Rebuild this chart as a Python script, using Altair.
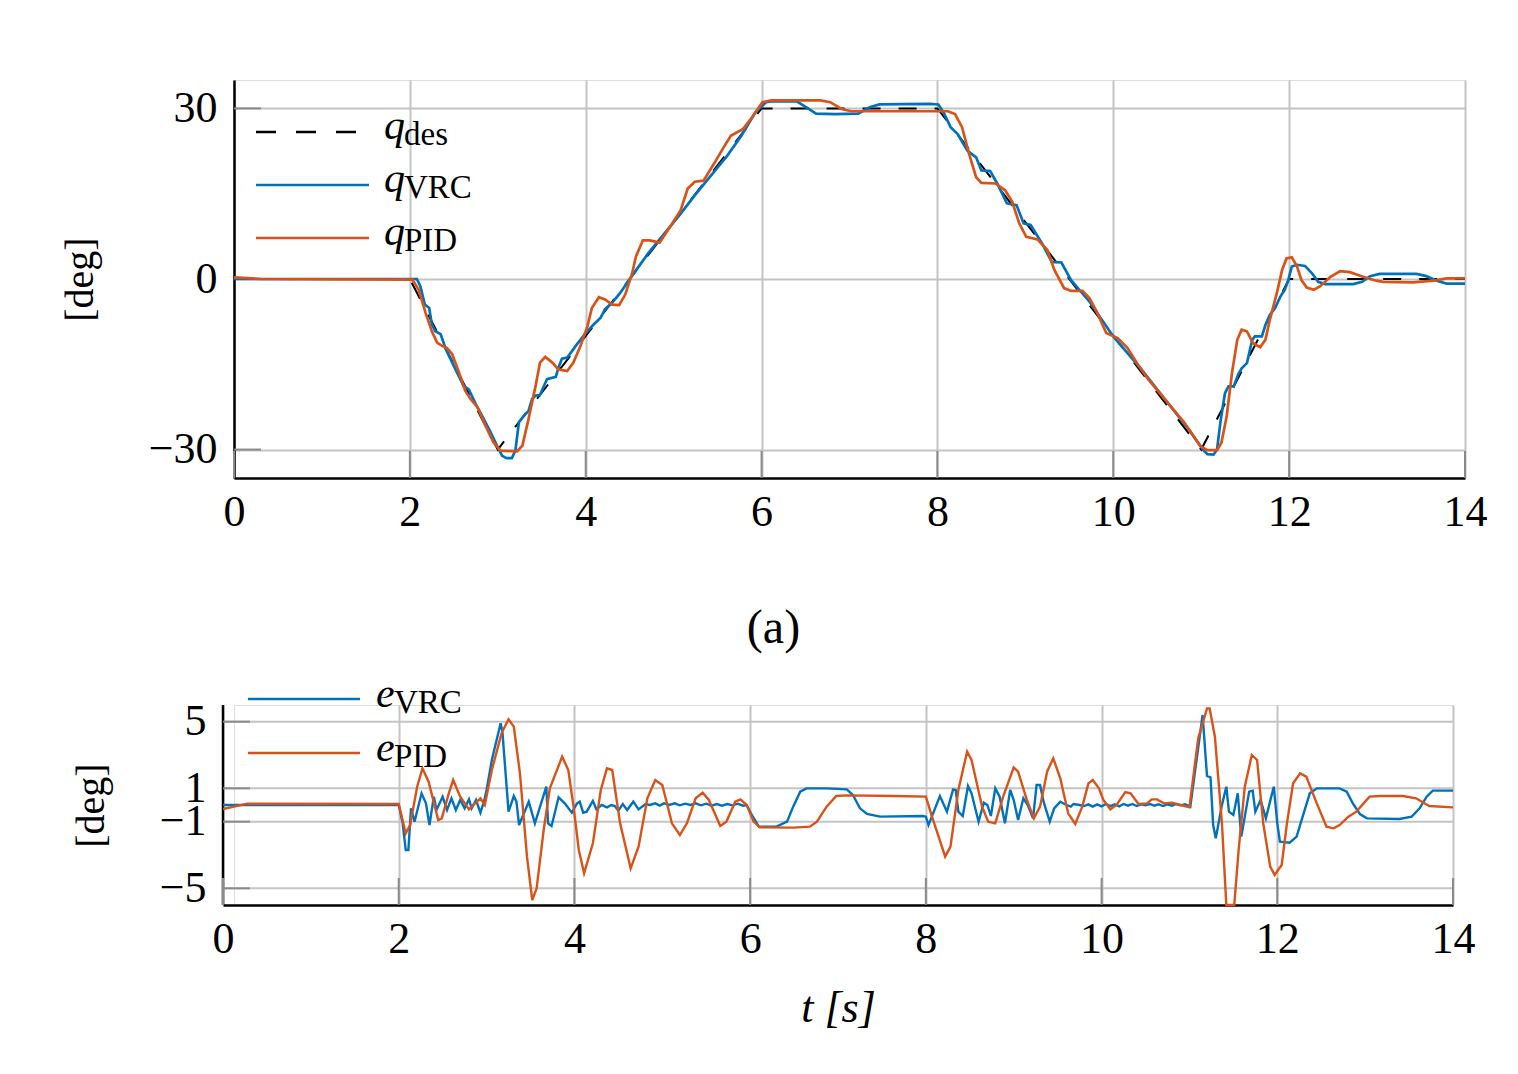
import altair as alt
import pandas as pd

# ---------------- data ----------------
x_ticks = [0, 2, 4, 6, 8, 10, 12, 14]
y_ticks_top = [-30, 0, 30]
y_ticks_bot = [-5, -1, 1, 5]

q_des = [(0, 0), (2, 0), (3, -30), (6, 30), (8, 30), (11, -30), (12, 0), (14, 0)]

q_vrc = [(0, 0), (2.08, 0), (2.12, -1.3), (2.17, -4.5), (2.22, -5.1), (2.25, -8.0), (2.29, -9.2),
         (2.35, -9.7), (2.41, -12.4), (2.5, -15.3), (2.61, -18.8), (2.67, -19.4), (2.75, -22.0),
         (2.84, -24.6), (2.92, -27.0), (2.99, -29.3), (3.05, -31.1), (3.10, -31.5), (3.16, -31.5),
         (3.20, -30.2), (3.24, -25.2), (3.30, -24.0), (3.35, -23.2), (3.39, -21.1), (3.43, -20.5),
         (3.48, -20.4), (3.56, -17.6), (3.66, -17.2), (3.69, -15.6), (3.73, -14.0), (3.79, -13.8),
         (3.90, -11.5), (4.0, -9.5), (4.09, -8.0), (4.17, -6.8), (4.22, -5.3), (4.3, -4.2),
         (4.39, -2.5), (4.51, 0.2), (4.71, 4.5), (4.88, 7.7), (5.08, 11.5), (5.24, 14.7),
         (5.44, 18.5), (5.61, 21.7), (5.77, 25.2), (5.93, 29.3), (6.05, 31.1), (6.11, 31.25),
         (6.40, 31.25), (6.51, 30.2), (6.62, 29.1), (6.83, 29.0), (7.10, 29.1), (7.23, 30.2),
         (7.34, 30.7), (7.91, 30.8), (8.01, 30.7), (8.07, 29.3), (8.15, 26.7), (8.23, 25.5),
         (8.34, 22.6), (8.44, 21.4), (8.50, 19.1), (8.60, 19.0), (8.68, 16.8), (8.79, 13.3),
         (8.90, 13.0), (8.98, 9.8), (9.06, 9.5), (9.19, 6.25), (9.30, 3.0), (9.41, 2.9),
         (9.52, -0.2), (9.73, -4.0), (10.0, -10.1), (10.32, -15.9), (10.59, -21.2), (10.86, -26.5),
         (11.02, -30.0), (11.07, -30.8), (11.14, -30.9), (11.18, -30.0), (11.22, -25.0),
         (11.27, -20.1), (11.31, -18.9), (11.37, -18.9), (11.42, -16.8), (11.46, -15.7),
         (11.52, -14.8), (11.58, -10.7), (11.61, -10.1), (11.69, -10.1), (11.73, -8.1),
         (11.78, -6.3), (11.84, -5.1), (11.90, -3.1), (11.95, -1.9), (11.99, -0.2), (12.03, 2.2),
         (12.09, 2.5), (12.18, 2.3), (12.26, 1.0), (12.33, -0.5), (12.41, -0.9), (12.73, -0.9),
         (12.83, -0.5), (12.92, 0.5), (13.03, 0.9), (13.45, 0.9), (13.56, 0.5), (13.68, -0.3),
         (13.79, -0.8), (14.0, -0.8)]

q_pid = [(0, 0.3), (0.3, 0), (2.03, -0.1), (2.10, -1.9), (2.18, -6.0), (2.25, -9.2), (2.31, -11.2),
         (2.37, -11.8), (2.42, -12.1), (2.48, -13.2), (2.56, -16.5), (2.63, -19.7), (2.69, -21.1),
         (2.77, -22.6), (2.86, -25.8), (2.95, -28.7), (3.03, -30.2), (3.22, -30.3), (3.28, -29.3),
         (3.35, -24.6), (3.43, -18.8), (3.48, -14.7), (3.54, -13.7), (3.62, -14.7), (3.69, -15.9),
         (3.79, -16.2), (3.86, -14.7), (3.94, -11.8), (4.02, -8.3), (4.07, -5.1), (4.15, -3.2),
         (4.22, -3.6), (4.30, -4.5), (4.38, -4.6), (4.45, -2.7), (4.53, 1.1), (4.57, 3.9),
         (4.65, 6.8), (4.73, 6.8), (4.84, 6.4), (4.96, 9.2), (5.08, 12.1), (5.16, 15.9),
         (5.24, 17.1), (5.34, 17.3), (5.46, 20.3), (5.57, 23.2), (5.65, 25.2), (5.79, 26.4),
         (5.89, 28.4), (6.01, 31.1), (6.11, 31.4), (6.67, 31.4), (6.78, 31.1), (6.91, 29.9),
         (7.02, 29.5), (8.12, 29.5), (8.20, 29.0), (8.28, 26.7), (8.36, 22.0), (8.44, 17.9),
         (8.50, 16.9), (8.66, 16.8), (8.77, 15.6), (8.85, 13.6), (8.93, 9.8), (9.01, 7.4),
         (9.14, 6.95), (9.25, 5.1), (9.33, 1.6), (9.44, -1.6), (9.52, -2.1), (9.65, -2.1),
         (9.73, -3.4), (9.81, -5.7), (9.92, -9.5), (10.05, -10.4), (10.16, -12.1), (10.27, -14.8),
         (10.40, -17.7), (10.59, -21.2), (10.81, -25.3), (10.99, -29.4), (11.07, -30.1),
         (11.18, -30.1), (11.23, -28.8), (11.29, -24.1), (11.35, -16.5), (11.41, -10.7),
         (11.46, -8.9), (11.52, -9.2), (11.59, -11.3), (11.67, -12.0), (11.73, -10.7),
         (11.78, -7.2), (11.86, -2.5), (11.92, 1.6), (11.97, 3.6), (12.03, 3.8), (12.09, 2.2),
         (12.14, -0.2), (12.2, -1.5), (12.28, -1.9), (12.35, -1.3), (12.47, 0.4), (12.58, 1.4),
         (12.69, 1.2), (12.84, 0.4), (12.99, -0.3), (13.07, -0.5), (13.41, -0.6), (13.64, -0.3),
         (13.79, 0.1), (14.0, 0.1)]

e_vrc = [(0, 0), (2.0, 0), (2.045, -1.1), (2.08, -2.7), (2.11, -2.7), (2.14, -0.2), (2.18, -1.0),
         (2.26, 0.7), (2.31, 0.1), (2.35, -1.2), (2.40, 0.5), (2.43, -0.3), (2.50, 0.5),
         (2.55, -0.3), (2.60, 0.4), (2.65, -0.3), (2.70, 0.3), (2.75, -0.2), (2.80, 0.34),
         (2.83, -0.2), (2.88, 0.3), (2.93, -0.46), (2.97, 0.2), (3.0, 0.9), (3.06, 2.7),
         (3.16, 4.9), (3.18, 4.4), (3.25, -0.4), (3.31, 0.54), (3.34, 0.2), (3.37, -1.2),
         (3.48, 0.2), (3.55, -1.1), (3.68, 1.1), (3.70, -1.1), (3.74, -1.26), (3.82, 0.46),
         (3.89, 0.1), (3.97, -0.46), (4.03, 0.1), (4.06, 0.2), (4.1, -0.46), (4.14, -0.4),
         (4.21, 0.24), (4.25, -0.26), (4.31, 0), (4.37, -0.14), (4.42, 0), (4.46, -0.06),
         (4.5, -0.34), (4.55, 0.06), (4.6, -0.3), (4.67, 0.2), (4.73, -0.26), (4.81, 0.06),
         (4.86, 0.0), (4.92, 0.1), (4.97, -0.04), (5.02, 0.1), (5.08, 0.0), (5.14, 0.1),
         (5.2, -0.02), (5.26, 0.08), (5.32, 0.0), (5.38, 0.1), (5.44, -0.02), (5.5, 0.08),
         (5.56, -0.04), (5.62, 0.06), (5.68, -0.04), (5.74, 0.06), (5.8, -0.02), (5.86, 0.08),
         (5.92, -0.04), (5.96, 0), (6.02, -0.6), (6.1, -1.3), (6.30, -1.3), (6.42, -1.0),
         (6.49, -0.1), (6.57, 0.8), (6.64, 1.0), (6.87, 1.0), (7.1, 0.94), (7.17, 0.6),
         (7.25, -0.2), (7.33, -0.54), (7.48, -0.7), (7.97, -0.66), (8.0, -0.7), (8.03, -1.2),
         (8.06, -0.8), (8.16, 0.54), (8.24, -0.4), (8.31, 0.94), (8.34, 0.9), (8.37, -0.4),
         (8.42, -0.66), (8.48, 1.14), (8.52, 0.7), (8.6, -1.0), (8.66, 0.14), (8.70, 0.0),
         (8.74, -0.66), (8.79, 1.0), (8.84, 0.5), (8.9, -1.1), (8.96, 0.9), (9.0, 0.3),
         (9.05, -0.9), (9.11, 0.4), (9.16, 0), (9.22, -0.8), (9.26, 1.2), (9.3, 1.2), (9.34, 0.2),
         (9.41, -1.0), (9.46, -0.2), (9.53, 0.2), (9.6, 0.0), (9.65, -0.1), (9.68, 0.06),
         (9.75, 0.0), (9.8, -0.06), (9.85, 0.04), (9.9, -0.1), (9.95, 0.04), (10.0, -0.08),
         (10.05, 0.06), (10.1, -0.06), (10.15, 0.04), (10.2, -0.08), (10.25, 0.06), (10.3, -0.04),
         (10.35, 0.06), (10.4, -0.06), (10.45, 0.04), (10.5, -0.02), (10.55, 0.06), (10.6, -0.04),
         (10.65, 0.04), (10.7, -0.06), (10.75, 0.04), (10.8, -0.04), (10.85, 0.06), (10.9, -0.02),
         (10.95, 0.04), (11.01, -0.1), (11.15, 5.4), (11.2, 1.74), (11.24, 1.66), (11.27, -1.2),
         (11.30, -2.0), (11.37, 0), (11.42, 1.1), (11.45, -0.4), (11.5, -0.6), (11.55, 0.7),
         (11.59, -1.9), (11.68, 0.8), (11.72, 0.86), (11.75, -0.4), (11.81, 0.3), (11.87, -0.8),
         (11.96, 1.1), (12.0, -1.1), (12.03, -2.2), (12.14, -2.26), (12.22, -1.9), (12.3, -0.5),
         (12.37, 0.7), (12.45, 1.0), (12.71, 1.0), (12.79, 0.8), (12.86, 0.1), (12.94, -0.54),
         (13.02, -0.8), (13.39, -0.84), (13.53, -0.7), (13.62, -0.2), (13.7, 0.5), (13.77, 0.86),
         (14.0, 0.86)]

# the PID error leaves the plotted range near t = 11.45 s; it is shown down to the axis (-6)
e_pid = [(0, -0.24), (0.28, 0.08), (2.0, 0.06), (2.08, -1.7), (2.13, -1.2), (2.21, 1.1), (2.27, 2.2),
         (2.34, 1.4), (2.45, -0.9), (2.49, -0.8), (2.57, 0.7), (2.62, 1.5), (2.70, 0.5),
         (2.80, -0.26), (2.85, 0), (2.93, 0.4), (2.98, 0), (3.06, 2.1), (3.17, 4.3), (3.25, 5.14),
         (3.31, 4.7), (3.38, 1.9), (3.46, -3.1), (3.52, -5.7), (3.57, -5.0), (3.65, -1.5),
         (3.72, 1.0), (3.86, 2.9), (3.93, 2.1), (3.99, -0.1), (4.05, -2.7), (4.11, -4.1),
         (4.21, -2.3), (4.30, 0.9), (4.37, 2.2), (4.43, 2.1), (4.52, -1.1), (4.64, -3.8),
         (4.73, -2.5), (4.83, 0.4), (4.92, 1.5), (5.0, 1.2), (5.11, -1.1), (5.2, -1.8),
         (5.28, -1.1), (5.38, 0.4), (5.46, 0.74), (5.53, 0.3), (5.66, -1.26), (5.73, -1.0),
         (5.83, 0.2), (5.89, 0.34), (5.96, 0), (6.04, -1.0), (6.11, -1.34), (6.49, -1.36),
         (6.68, -1.3), (6.76, -1.0), (6.87, -0.1), (6.98, 0.54), (7.1, 0.58), (7.63, 0.54),
         (8.0, 0.5), (8.07, -0.7), (8.22, -3.1), (8.28, -2.5), (8.37, 0.9), (8.47, 3.2),
         (8.52, 2.7), (8.64, -0.1), (8.71, -1.0), (8.79, -1.1), (8.88, 0.5), (9.0, 2.26),
         (9.05, 2.0), (9.15, 0.3), (9.23, -0.8), (9.30, -0.1), (9.38, 2.0), (9.45, 2.8),
         (9.53, 1.6), (9.62, -0.5), (9.70, -1.14), (9.78, -0.1), (9.85, 1.3), (9.9, 1.5),
         (9.97, 1.0), (10.02, 0.3), (10.1, -0.26), (10.17, 0), (10.27, 0.78), (10.33, 0.7),
         (10.42, 0.06), (10.52, 0.1), (10.57, 0.34), (10.63, 0.34), (10.71, 0.1), (10.8, 0.14),
         (10.9, 0), (11.0, -0.14), (11.1, 4.0), (11.2, 5.8), (11.23, 5.8), (11.29, 4.1),
         (11.37, -1.1), (11.42, -6.0), (11.51, -6.0), (11.56, -2.7), (11.63, 1.1),
         (11.71, 3.0), (11.77, 2.7), (11.84, -1.1), (11.92, -3.7), (11.97, -4.2), (12.05, -3.6),
         (12.11, -1.1), (12.18, 1.3), (12.26, 1.9), (12.33, 1.7), (12.45, 0.1), (12.56, -1.3),
         (12.64, -1.4), (12.71, -1.2), (12.81, -0.7), (12.9, -0.4), (13.05, 0.5), (13.17, 0.54),
         (13.43, 0.54), (13.58, 0.4), (13.73, -0.06), (14.0, -0.14)]

legend_top = ["des", "VRC", "PID"]
legend_bot = ["VRC", "PID"]

# ---------------- styling ----------------
BLUE = "#0072BD"
ORANGE = "#D95319"
GRID = "#c4c4c4"
TICK = "#8a8a8a"
FONT = "Liberation Serif"
FS = 44
TFS = 40

W1, H1 = 1231, 398
# lower panel: same group origin as the upper one, but its x range starts 11 px further left
SHIFT = 11
W2, H2 = 1230 - SHIFT, 200


def frame(pairs):
    return pd.DataFrame(pairs, columns=["t", "v"])


def axis_x(title, tx, ty, tsize, tstyle):
    return alt.Axis(values=x_ticks, format="d", grid=True, gridColor=GRID, gridWidth=2,
                    domainColor="black", domainWidth=2.5, ticks=False, labelFlush=False,
                    labelOverlap=False, labelFont=FONT, labelFontSize=FS, labelColor="black",
                    labelPadding=12, title=title, titleX=tx, titleY=ty, titleBaseline="middle",
                    titleAlign="center", titleFont=FONT, titleFontSize=tsize,
                    titleFontWeight="normal", titleFontStyle=tstyle, titleColor="black")


def axis_y(vals, tx, ty, grid, domain, pad):
    return alt.Axis(values=vals, format="d", grid=grid, gridColor=GRID, gridWidth=2,
                    domain=domain, domainColor="black", domainWidth=2.5, ticks=False,
                    labelOverlap=False, labelFont=FONT, labelFontSize=FS, labelColor="black",
                    labelPadding=pad, labelBaseline="middle", title="[deg]", titleX=tx, titleY=ty,
                    titleBaseline="middle", titleAlign="center", titleAngle=270,
                    titleFont=FONT, titleFontSize=TFS, titleFontWeight="normal", titleColor="black")


# ---------------- top panel ----------------
xs1 = alt.Scale(domain=[0, 14], nice=False, zero=False)
ys1 = alt.Scale(domain=[-35, 35], nice=False, zero=False)
ax1 = axis_x("(a)", 539, 150, 48, "normal")
ay1 = axis_y(y_ticks_top, -154, H1 / 2, True, True, 17)


def line1(pairs, **kw):
    return alt.Chart(frame(pairs)).mark_line(**kw).encode(
        x=alt.X("t:Q", scale=xs1, axis=ax1),
        y=alt.Y("v:Q", scale=ys1, axis=ay1),
        order="t:Q")


top_ticks_y = alt.Chart(pd.DataFrame({"v": y_ticks_top})).mark_rule(color=TICK, strokeWidth=2).encode(
    y=alt.Y("v:Q", scale=ys1, axis=ay1), x=alt.value(0), x2=alt.value(27))
top_ticks_x = alt.Chart(pd.DataFrame({"t": x_ticks})).mark_rule(color=TICK, strokeWidth=2).encode(
    x=alt.X("t:Q", scale=xs1, axis=ax1), y=alt.value(H1 - 27), y2=alt.value(H1))

dummy = pd.DataFrame({"a": [0]})
top_legend = []
top_styles = [dict(color="black", strokeDash=[20, 20]), dict(color=BLUE), dict(color=ORANGE)]
for i, (lab, st) in enumerate(zip(legend_top, top_styles)):
    ly = 52 + 53 * i
    top_legend.append(alt.Chart(dummy).mark_rule(strokeWidth=2.5, **st).encode(
        x=alt.value(22), x2=alt.value(135), y=alt.value(ly)))
    top_legend.append(alt.Chart(dummy).mark_text(
        text="q", font=FONT, fontSize=42, fontStyle="italic", align="left",
        baseline="alphabetic", color="black").encode(x=alt.value(150), y=alt.value(ly + 7)))
    top_legend.append(alt.Chart(dummy).mark_text(
        text=lab, font=FONT, fontSize=33, align="left", baseline="alphabetic",
        color="black").encode(x=alt.value(170), y=alt.value(ly + 13)))

top = alt.layer(
    top_ticks_y, top_ticks_x,
    line1(q_des, color="black", strokeWidth=2, strokeDash=[18, 18]),
    line1(q_vrc, color=BLUE, strokeWidth=2.7),
    line1(q_pid, color=ORANGE, strokeWidth=2.7),
    *top_legend,
).properties(width=W1, height=H1)

# ---------------- bottom panel ----------------
xs2 = alt.Scale(domain=[0, 14], nice=False, zero=False, range=[-SHIFT, W2])
ys2 = alt.Scale(domain=[-6, 6], nice=False, zero=False)
ax2 = axis_x("t  [s]", 837 - 233, 103, 44, "italic")
ay2 = axis_y(y_ticks_bot, 90.5 - 233, H2 / 2, False, False, 17 + SHIFT)


def line2(pairs, **kw):
    return alt.Chart(frame(pairs)).mark_line(**kw).encode(
        x=alt.X("t:Q", scale=xs2, axis=ax2),
        y=alt.Y("v:Q", scale=ys2, axis=ay2),
        order="t:Q")


bot_grid_y = alt.Chart(pd.DataFrame({"v": y_ticks_bot})).mark_rule(color=GRID, strokeWidth=2).encode(
    y=alt.Y("v:Q", scale=ys2, axis=ay2), x=alt.datum(0), x2=alt.datum(14))
bot_domain_y = alt.Chart(dummy).mark_rule(color="black", strokeWidth=2.5).encode(
    x=alt.datum(0), y=alt.value(0), y2=alt.value(H2))
bot_ticks_y = alt.Chart(pd.DataFrame({"v": y_ticks_bot})).mark_rule(color=TICK, strokeWidth=2).encode(
    y=alt.Y("v:Q", scale=ys2, axis=ay2), x=alt.datum(0), x2=alt.value(27 - SHIFT))
bot_ticks_x = alt.Chart(pd.DataFrame({"t": x_ticks})).mark_rule(color=TICK, strokeWidth=2).encode(
    x=alt.X("t:Q", scale=xs2, axis=ax2), y=alt.value(H2 - 27), y2=alt.value(H2))

bot_legend = []
for i, (lab, col) in enumerate(zip(legend_bot, [BLUE, ORANGE])):
    ly = -6 + 54 * i
    bot_legend.append(alt.Chart(dummy).mark_rule(strokeWidth=2.5, color=col).encode(
        x=alt.value(25 - SHIFT), x2=alt.value(137 - SHIFT), y=alt.value(ly)))
    bot_legend.append(alt.Chart(dummy).mark_text(
        text="e", font=FONT, fontSize=42, fontStyle="italic", align="left",
        baseline="alphabetic", color="black").encode(x=alt.value(153 - SHIFT), y=alt.value(ly + 8)))
    bot_legend.append(alt.Chart(dummy).mark_text(
        text=lab, font=FONT, fontSize=33, align="left", baseline="alphabetic",
        color="black").encode(x=alt.value(171 - SHIFT), y=alt.value(ly + 14)))

bottom = alt.layer(
    bot_grid_y, bot_domain_y, bot_ticks_y, bot_ticks_x,
    line2(e_vrc, color=BLUE, strokeWidth=2.4),
    line2(e_pid, color=ORANGE, strokeWidth=2.4),
    *bot_legend,
).properties(width=W2, height=H2)

chart = alt.vconcat(top, bottom, spacing=19).properties(
    padding={"top": 71, "left": 51, "right": 5, "bottom": 5}
).configure_view(stroke=None).configure(background="white")

chart.save("out.html", embed_options={"renderer": "svg", "actions": False})
